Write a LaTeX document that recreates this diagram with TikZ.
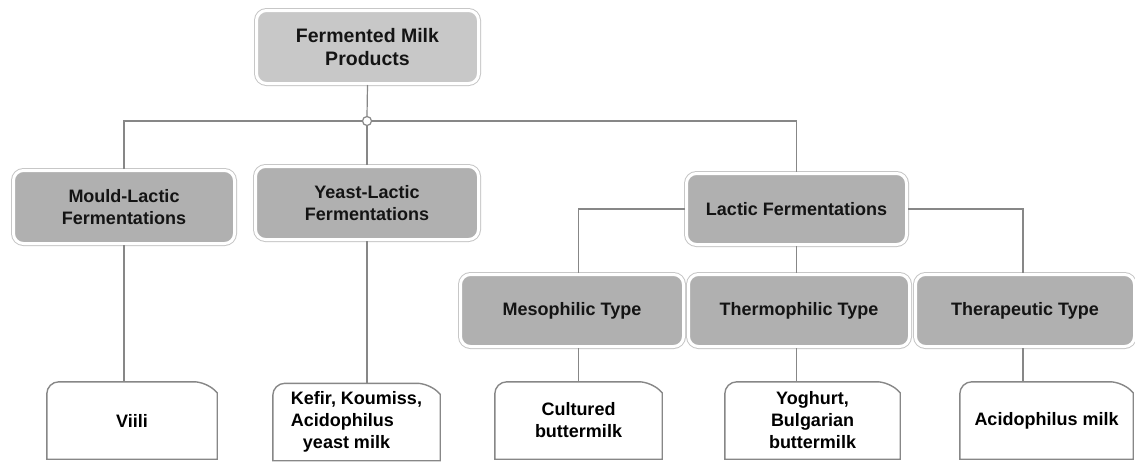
\documentclass[tikz,border=0pt]{standalone}
\usepackage{fontspec}
\setmainfont{Liberation Sans}
\definecolor{linegray}{RGB}{135,135,135}
\definecolor{lightbox}{RGB}{200,200,200}
\definecolor{darkbox}{RGB}{176,176,176}
\definecolor{txt}{RGB}{20,20,20}
\newcommand\chambox[1]{\draw[botline] (#1.south west) [rounded corners=12pt] -- (#1.north west) -- ([xshift=-11pt]#1.north east) [sharp corners] -- ([yshift=-11pt]#1.north east) -- (#1.south east) -- cycle;}
\begin{document}
\begin{tikzpicture}[x=1pt,y=-1pt,
  conn/.style={draw=linegray, line width=1.2pt},
  botline/.style={draw=linegray, line width=1.4pt},
  gbox/.style={rounded corners=10pt, draw=white, line width=3pt, fill=#1,
    text=txt, font=\bfseries\fontsize{18}{22}\selectfont, align=center, inner sep=0pt,
    preaction={draw=black!22, line width=5pt}},
  bbox/.style={minimum width=#1, minimum height=77pt, inner sep=0pt,
    text=black, font=\bfseries\fontsize{18}{22}\selectfont, align=center}]
\useasboundingbox (0,0) rectangle (1135,461);
\fill[white] (0,0) rectangle (1135,461);

% level boxes
\node[gbox=lightbox, minimum width=222pt, minimum height=73pt, font=\bfseries\fontsize{19.5}{23}\selectfont] (top) at (367.5,47) {Fermented Milk\\Products};
\node[gbox=darkbox, minimum width=221pt, minimum height=73pt] (mould) at (124,207) {Mould-Lactic\\Fermentations};
\node[gbox=darkbox, minimum width=223pt, minimum height=73pt] (yeast) at (367,203) {Yeast-Lactic\\Fermentations};
\node[gbox=darkbox, minimum width=220pt, minimum height=71pt] (lactic) at (796.5,209) {Lactic Fermentations};
\node[gbox=darkbox, minimum width=223pt, minimum height=72pt] (meso) at (572,310.5) {Mesophilic Type};
\node[gbox=darkbox, minimum width=221pt, minimum height=72pt] (thermo) at (799,310.5) {Thermophilic Type};
\node[gbox=darkbox, minimum width=219pt, minimum height=72pt] (thera) at (1025,310.5) {Therapeutic Type};

% bottom boxes
\node[bbox=170pt] (viili) at (132,420.5) {Viili};
\node[bbox=167pt, align=left] (kefir) at (356.5,422) {Kefir, Koumiss,\\Acidophilus\\\hspace*{12pt}yeast milk};
\node[bbox=167pt] (cult) at (578.5,420.5) {Cultured\\buttermilk};
\node[bbox=175pt] (yog) at (812.5,420.5) {Yoghurt,\\Bulgarian\\buttermilk};
\node[bbox=173pt] (acid) at (1046.5,420.5) {Acidophilus milk};
\chambox{viili}
\chambox{kefir}
\chambox{cult}
\chambox{yog}
\chambox{acid}

% junction
\node[circle, draw=linegray, fill=white, line width=1.2pt, minimum size=9pt, inner sep=0pt] (jn) at (367,121) {};

% connectors
\draw[conn] (top.south) -- (jn.north);
\draw[conn] (mould.north) |- (jn.west);
\draw[conn] (jn.east) -| (lactic.north);
\draw[conn] (jn.south) -- (yeast.north);
\draw[conn] (mould.south) -- (mould.south |- viili.north);
\draw[conn] (yeast.south) -- (yeast.south |- kefir.north);
\draw[conn] (lactic.west) -| (meso.north -| cult.north);
\draw[conn] (lactic.east) -| ([xshift=-2pt]thera.north);
\draw[conn] (lactic.south) -- (lactic.south |- thermo.north);
\draw[conn] (meso.south -| cult.north) -- (cult.north);
\draw[conn] (lactic.south |- thermo.south) -- (lactic.south |- yog.north);
\draw[conn] ([xshift=-2pt]thera.south) -- ([xshift=-2pt]thera.south |- acid.north);
\end{tikzpicture}
\end{document}
